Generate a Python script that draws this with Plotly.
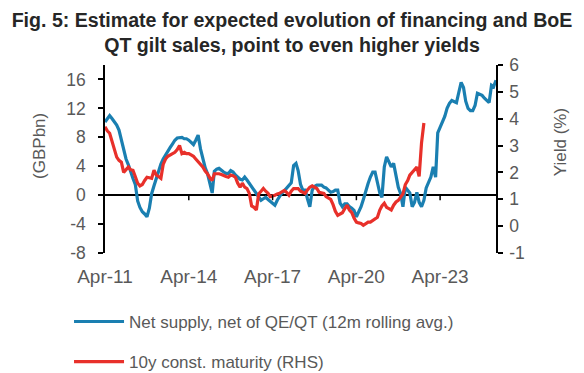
import pandas as pd
import plotly.graph_objects as go

# Net supply, net of QE/QT (12m rolling avg.), GBPbn, monthly from Apr-2011
net_supply = [
    10.1, 10.6, 11.0, 10.6, 10.1, 9.7, 9.0, 7.5, 6.0, 5.0, 4.2, 3.2,
    2.3, 1.5, -0.8, -1.7, -2.3, -2.6, -3.0, -1.8, 0.2, 1.3, 2.4, 3.4,
    4.3, 5.0, 5.6, 6.2, 6.6, 7.1, 7.6, 7.9, 8.0, 8.0, 7.8, 7.8,
    7.6, 7.3, 7.0, 7.6, 8.3, 6.4, 4.9, 3.8, 3.0, 1.5, 0.3, 3.3,
    3.6, 3.7, 3.4, 3.2, 3.0, 3.0, 3.4, 3.2, 2.8, 2.5, 2.2, 2.1,
    2.5, 2.1, 1.6, 1.1, 0.6, 0.3, -0.3, -0.7, -0.5, -0.3, -0.6, -0.9,
    -1.2, -1.4, -0.7, -0.2, 0.3, 0.6, 1.0, 1.4, 1.7, 4.1, 4.4, 3.4,
    1.5, 0.7, 0.7, -0.5, -1.6, 0.7, 1.2, 1.4, 1.4, 1.4, 1.1, 1.0,
    0.7, 0.4, 0.5, 0.7, 0.7, -1.1, -1.6, -1.2, -1.2, -1.6, -1.8, -2.1,
    -3.0, -2.4, -1.6, -0.6, 0.7, 1.6, 2.5, 3.2, 3.2, 1.7, 0.3, -0.3,
    3.9, 5.3, 4.5, 3.9, 4.4, 2.5, 1.1, 0.2, -1.6, 1.1, 0.6, 0.3,
    -1.6, -1.0, 0.4, -1.0, -1.6, -0.7, 1.0, 1.8, 2.5, 3.9, 2.5, 8.6,
    9.4, 10.2, 10.9, 12.0, 12.7, 13.1, 13.0, 12.8, 14.2, 15.6, 14.9, 13.0,
    12.0, 11.7, 11.7, 12.4, 14.1, 13.9, 13.8, 13.4, 13.1, 12.8, 15.2, 15.0,
    15.9,
]

# 10y constant maturity gilt yield (%), monthly from Apr-2011
yield_10y = [
    3.70, 3.55, 3.46, 3.20, 2.90, 2.57, 2.45, 2.38, 2.00, 2.10, 2.20, 2.10,
    2.08, 1.85, 1.60, 1.50, 1.55, 1.70, 1.82, 1.80, 1.78, 2.08, 1.90, 1.85,
    1.78, 2.30, 2.50, 2.60, 2.64, 2.70, 2.75, 2.85, 3.00, 2.70, 2.75, 2.70,
    2.70, 2.65, 2.60, 2.50, 2.40, 2.30, 2.20, 2.05, 1.95, 1.80, 1.70, 1.95,
    1.95, 1.95, 1.92, 1.90, 1.85, 1.82, 1.90, 1.88, 1.82, 1.60, 1.45, 1.60,
    1.45, 1.40, 1.22, 0.75, 0.70, 0.60, 1.20, 1.30, 1.40, 1.30, 1.22, 1.10,
    1.12, 1.15, 1.20, 1.22, 1.28, 1.33, 1.26, 1.15, 1.30, 1.40, 1.40, 1.40,
    1.30, 1.26, 1.22, 1.35, 1.45, 1.50, 1.45, 1.40, 1.26, 1.25, 1.22, 1.10,
    1.05, 1.00, 0.80, 0.55, 0.40, 0.45, 0.50, 0.65, 0.78, 0.60, 0.50, 0.30,
    0.15, 0.12, 0.10, 0.03, 0.10, 0.15, 0.15, 0.20, 0.25, 0.33, 0.60, 0.75,
    0.85, 0.70, 0.65, 0.60, 0.78, 0.90, 0.96, 1.07, 1.20, 1.55, 1.70, 1.90,
    2.00, 2.10, 2.20, 1.85, 3.10, 3.84,
]

tick_dates = ["2011-04-01", "2014-04-01", "2017-04-01", "2020-04-01", "2023-04-01"]
tick_labels = ["Apr-11", "Apr-14", "Apr-17", "Apr-20", "Apr-23"]
left_ticks = [-8, -4, 0, 4, 8, 12, 16]
left_labels = ["-8", "-4", "0", "4", "8", "12", "16"]
right_ticks = [-1, 0, 1, 2, 3, 4, 5, 6]
right_labels = ["-1", "0", "1", "2", "3", "4", "5", "6"]

dates_blue = pd.date_range("2011-04-01", periods=len(net_supply), freq="MS")
dates_red = pd.date_range("2011-04-01", periods=len(yield_10y), freq="MS")

BLUE = "#1a7fb1"
RED = "#e8302a"
GREY = "#595959"
FONT = "Liberation Sans, Arial, sans-serif"

fig = go.Figure()
fig.add_trace(go.Scatter(
    x=dates_blue, y=net_supply, mode="lines",
    line=dict(color=BLUE, width=3.2),
    name="Net supply, net of QE/QT (12m rolling avg.)",
    legendgroup="a", yaxis="y",
))
fig.add_trace(go.Scatter(
    x=dates_red, y=yield_10y, mode="lines",
    line=dict(color=RED, width=3.2),
    name="10y const. maturity (RHS)",
    legendgroup="b", yaxis="y2",
))

# small x tick marks hanging from the zero line
shapes = []
for d in tick_dates[1:]:
    shapes.append(dict(type="line", xref="x", yref="y", x0=d, x1=d, y0=0, y1=-0.7,
                       line=dict(color="black", width=1.5)))

fig.update_layout(
    width=584, height=373,
    margin=dict(l=105, r=88, t=65, b=120, autoexpand=False),
    paper_bgcolor="white", plot_bgcolor="white",
    font=dict(family=FONT, size=17, color=GREY),
    title=dict(
        text="<b>Fig. 5: Estimate for expected evolution of financing and BoE<br>QT gilt sales, point to even higher yields</b>",
        x=0.5, xanchor="center", xref="container", y=0.928, yanchor="middle", yref="container",
        font=dict(family=FONT, size=19.6, color="#262626"),
    ),
    xaxis=dict(
        type="date", range=["2011-04-01", "2025-04-01"],
        tickvals=tick_dates, ticktext=tick_labels,
        showline=False, ticks="", showgrid=False, zeroline=False,
        tickfont=dict(size=19, color=GREY), ticklabelstandoff=10,
    ),
    yaxis=dict(
        range=[-8, 18], tickvals=left_ticks, ticktext=left_labels, showgrid=False,
        showline=True, linecolor="black", linewidth=1.5,
        ticks="outside", ticklen=5, tickcolor="black", tickwidth=1.5,
        zeroline=True, zerolinecolor="black", zerolinewidth=1.5,
        tickfont=dict(size=17.5, color=GREY), ticklabelstandoff=9,
    ),
    yaxis2=dict(
        range=[-1, 6], tickvals=right_ticks, ticktext=right_labels,
        overlaying="y", side="right",
        showgrid=False, zeroline=False,
        showline=True, linecolor="black", linewidth=1.5,
        ticks="outside", ticklen=5, tickcolor="black", tickwidth=1.5,
        tickfont=dict(size=17.5, color=GREY), ticklabelstandoff=3,
    ),
    legend=dict(
        x=-0.092, xanchor="left", y=-0.271, yanchor="top",
        orientation="v", tracegroupgap=15,
        font=dict(size=17, color=GREY), bgcolor="rgba(0,0,0,0)",
        itemwidth=50,
    ),
    showlegend=True,
    shapes=shapes,
    annotations=[
        dict(text="(GBPbn)", textangle=-90, xref="paper", yref="paper",
             x=-0.166, y=0.57, xanchor="center", yanchor="middle", showarrow=False,
             font=dict(size=17, color=GREY)),
        dict(text="Yield (%)", textangle=-90, xref="paper", yref="paper",
             x=1.164, y=0.59, xanchor="center", yanchor="middle", showarrow=False,
             font=dict(size=17, color=GREY)),
    ],
)

fig.write_html("out.html", config={"displayModeBar": False},
               post_script="document.body.style.margin='0';")
